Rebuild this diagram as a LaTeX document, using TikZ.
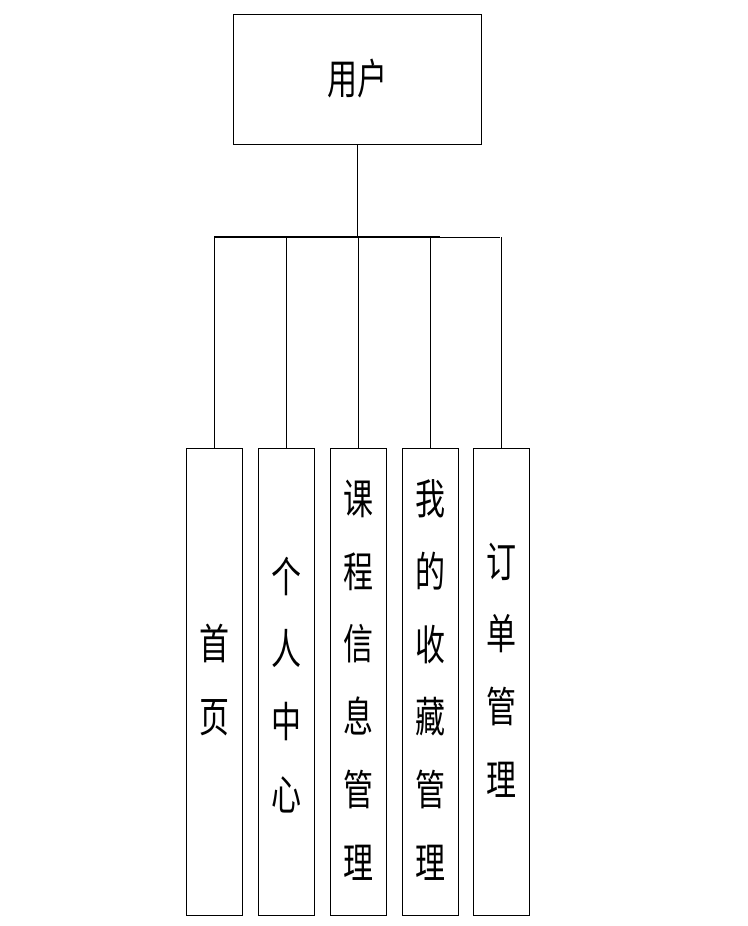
\documentclass[tikz,border=0pt]{standalone}
\usepackage{fontspec}
\newfontfamily\cjk{Noto Sans CJK SC}
\tikzset{
  box/.style={draw,thin,minimum width=56pt,minimum height=467pt,anchor=north,inner sep=0pt},
  vt/.style={font=\cjk\fontsize{30}{52}\selectfont,align=center,text width=40pt,yscale=1.4,transform shape},
  ln/.style={draw,thin}
}
\begin{document}
\begin{tikzpicture}[x=1pt,y=-1pt]
\useasboundingbox (0,0) rectangle (747,926);
\node[draw,thin,minimum width=248pt,minimum height=130pt] (u) at (357,79) {};
\node[font=\cjk\fontsize{30}{40}\selectfont,yscale=1.4,transform shape] (ut) at (357,79) {用户};
\coordinate (j) at (357,237);
\coordinate (l) at (214,237);
\coordinate (r) at (500,237);
\node[box] (b1) at (214,448) {};
\node[box] (b2) at (286,448) {};
\node[box] (b3) at (358,448) {};
\node[box] (b4) at (430,448) {};
\node[box] (b5) at (501,448) {};
\node[vt] (t1) at (214,680) {首\\页};
\node[vt] (t2) at (286,685) {个\\人\\中\\心};
\node[vt] (t3) at (358,680) {课\\程\\信\\息\\管\\理};
\node[vt] (t4) at (430,680) {我\\的\\收\\藏\\管\\理};
\node[vt] (t5) at (501,670) {订\\单\\管\\理};
\draw[ln] (u.south) -- (j);
\draw[ln] (l) -- (r);
\draw[ln,line width=1.2pt] (l) -- (440,237);
\foreach \i/\x in {1/214,2/286,3/358,4/430,5/501}{
  \draw[ln] (\x,237) -- (b\i.north);
}
\end{tikzpicture}
\end{document}
